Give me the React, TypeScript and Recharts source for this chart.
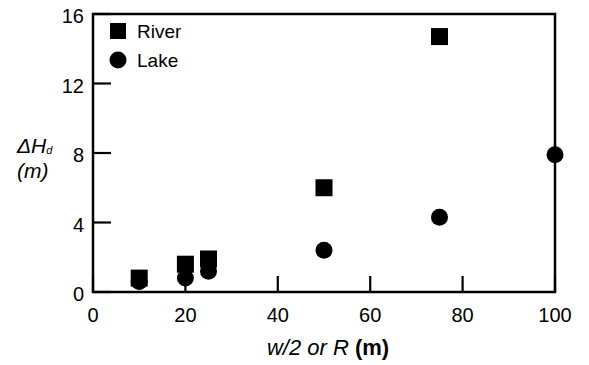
import { ScatterChart, Scatter, XAxis, YAxis, ReferenceArea } from 'recharts'

const riverX = [10, 20, 25, 50, 75]
const riverY = [0.8, 1.6, 1.9, 6.0, 14.7]
const lakeX = [10, 20, 25, 50, 75, 100]
const lakeY = [0.6, 0.8, 1.2, 2.4, 4.3, 7.9]
const xTicks = [0, 20, 40, 60, 80, 100]
const yTicks = [0, 4, 8, 12, 16]

const river = riverX.map((x, i) => ({ x, y: riverY[i] }))
const lake = lakeX.map((x, i) => ({ x, y: lakeY[i] }))

const FONT = '"Liberation Sans", Arial, sans-serif'

const XTick = (props: any) => {
  const { x, y, payload } = props
  return (
    <g>
      <line x1={x} y1={y} x2={x} y2={y - 16} stroke="#000" strokeWidth={2.2} />
      <text x={x} y={y + 16} dy="0.71em" textAnchor="middle" fontSize={20} fontFamily={FONT} fill="#000">
        {payload.value}
      </text>
    </g>
  )
}

const YTick = (props: any) => {
  const { x, y, payload } = props
  return (
    <g>
      <line x1={x} y1={y} x2={x + 18} y2={y} stroke="#000" strokeWidth={2.2} />
      <text x={x - 9} y={y + 2} dy="0.355em" textAnchor="end" fontSize={20} fontFamily={FONT} fill="#000">
        {payload.value}
      </text>
    </g>
  )
}

const Square = (props: any) => (
  <rect x={props.cx - 8.5} y={props.cy - 8.5} width={17} height={17} fill="#000" />
)
const Dot = (props: any) => <circle cx={props.cx} cy={props.cy} r={8.5} fill="#000" />

export default function App() {
  return (
    <div style={{ position: 'absolute', left: 0, top: 0, fontFamily: FONT }}>
      <ScatterChart width={589} height={365} margin={{ top: 14, right: 34, left: 0, bottom: 0 }}>
        <XAxis
          type="number"
          dataKey="x"
          domain={[0, 100]}
          ticks={xTicks}
          height={73}
          tickSize={0}
          tickMargin={0}
          axisLine={false}
          tick={<XTick />}
          label={{
            content: () => (
              <text x={328} y={355} textAnchor="middle" fontSize={22} fontFamily={FONT} fill="#000">
                <tspan fontStyle="italic">w/2 or R</tspan>
                <tspan fontWeight="bold"> (m)</tspan>
              </text>
            ),
          }}
        />
        <YAxis
          type="number"
          dataKey="y"
          domain={[0, 16]}
          ticks={yTicks}
          width={93}
          tickSize={0}
          tickMargin={0}
          axisLine={false}
          tick={<YTick />}
          label={{
            content: () => (
              <g fontFamily={FONT} fill="#000" fontStyle="italic">
                <text x={17} y={153} fontSize={21}>
                  ΔH<tspan fontSize={11} dy={1}>d</tspan>
                </text>
                <text x={17} y={178} fontSize={21}>(m)</text>
              </g>
            ),
          }}
        />
        <ReferenceArea
          x1={0}
          x2={100}
          y1={0}
          y2={16}
          fill="none"
          fillOpacity={0}
          stroke="#000"
          strokeWidth={2.5}
          ifOverflow="visible"
        />
        <Scatter data={river} shape={<Square />} isAnimationActive={false} />
        <Scatter data={lake} shape={<Dot />} isAnimationActive={false} />
        <g>
          <rect x={110} y={23} width={16} height={16} fill="#000" />
          <text x={137} y={38} fontSize={19} fontFamily={FONT} fill="#000">River</text>
          <circle cx={118} cy={60} r={8.5} fill="#000" />
          <text x={137} y={67} fontSize={19} fontFamily={FONT} fill="#000">Lake</text>
        </g>
      </ScatterChart>
    </div>
  )
}
